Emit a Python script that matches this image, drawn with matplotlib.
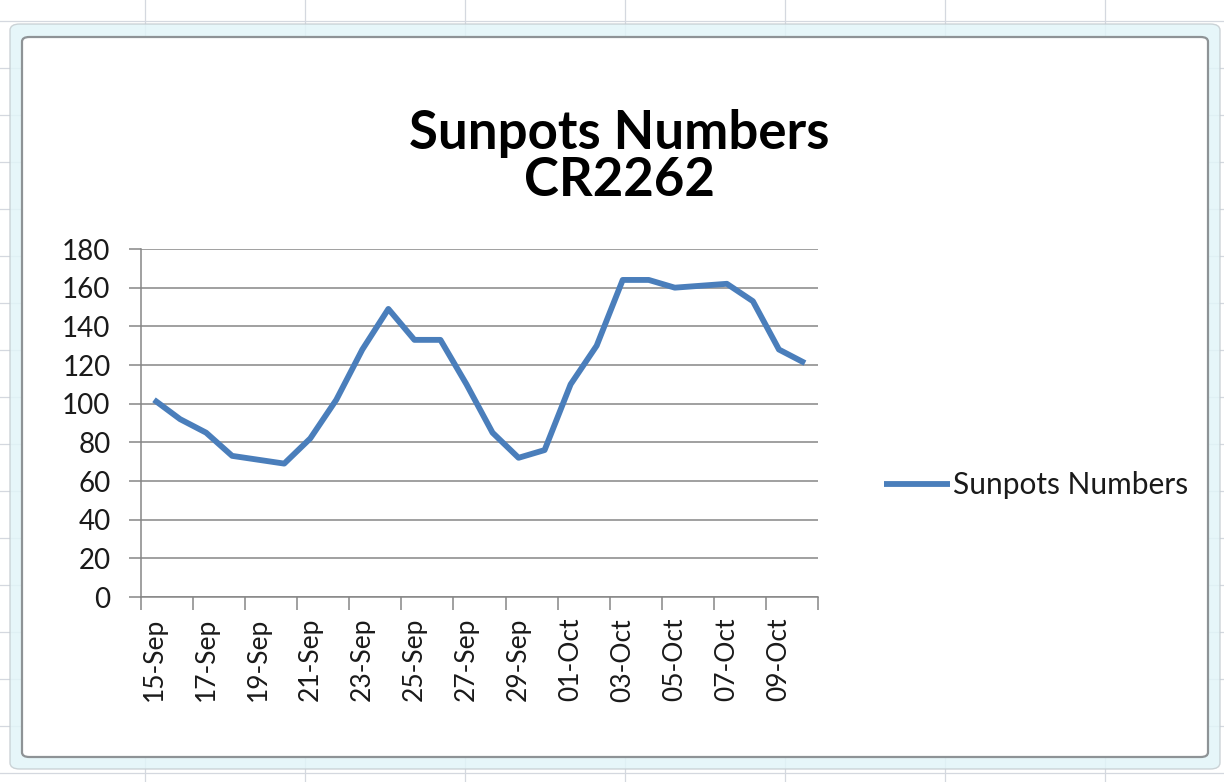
import matplotlib
matplotlib.use("Agg")
import matplotlib.pyplot as plt
from matplotlib.patches import FancyBboxPatch
from matplotlib.lines import Line2D

dates = ["15-Sep", "16-Sep", "17-Sep", "18-Sep", "19-Sep", "20-Sep", "21-Sep",
         "22-Sep", "23-Sep", "24-Sep", "25-Sep", "26-Sep", "27-Sep", "28-Sep",
         "29-Sep", "30-Sep", "01-Oct", "02-Oct", "03-Oct", "04-Oct", "05-Oct",
         "06-Oct", "07-Oct", "08-Oct", "09-Oct", "10-Oct"]
sunspots = [102, 92, 85, 73, 71, 69, 82, 102, 128, 149, 133, 133, 110, 85,
            72, 76, 110, 130, 164, 164, 160, 161, 162, 153, 128, 121]
y_ticks = [0, 20, 40, 60, 80, 100, 120, 140, 160, 180]
series_name = "Sunpots Numbers"
title_lines = ["Sunpots Numbers", "CR2262"]

W, H = 1224, 782
fig = plt.figure(figsize=(W / 100, H / 100), dpi=100)
fig.patch.set_facecolor("white")

FONT = "Lato"

def fx(px):
    return px / W

def fy(py):
    return 1 - py / H

# spreadsheet grid behind the chart
for x in [145, 305, 465, 625, 785, 945, 1105]:
    fig.add_artist(Line2D([fx(x), fx(x)], [0, 1], color="#D4D8DF", lw=0.9, zorder=0))
for y in range(21, 782, 47):
    fig.add_artist(Line2D([0, 1], [fy(y), fy(y)], color="#D4D8DF", lw=0.9, zorder=0))

# chart frame (selection band + inner border)
band = FancyBboxPatch((fx(10), fy(769)), fx(1220) - fx(10), fy(24) - fy(769),
                      boxstyle="round,pad=0,rounding_size=0.008",
                      transform=fig.transFigure, facecolor="#E2F5F8", alpha=0.85,
                      edgecolor="#C4CCD0", lw=1.0, zorder=1)
fig.add_artist(band)
inner = FancyBboxPatch((fx(22), fy(757)), fx(1208) - fx(22), fy(37) - fy(757),
                       boxstyle="round,pad=0,rounding_size=0.006",
                       transform=fig.transFigure, facecolor="white",
                       edgecolor="#8E9396", lw=1.6, zorder=2)
fig.add_artist(inner)

ax = fig.add_axes([fx(141), fy(597), fx(818) - fx(141), fy(249) - fy(597)])
ax.set_zorder(3)
ax.patch.set_alpha(0)

xs = list(range(len(dates)))
line, = ax.plot(xs, sunspots, color="#4A7EBB", lw=4.2, solid_joinstyle="round",
                solid_capstyle="butt", label=series_name, zorder=3)

ax.set_xlim(-0.5, len(dates) - 0.5)
ax.set_ylim(0, 180)
ax.set_yticks(y_ticks)
ax.set_yticklabels([str(v) for v in y_ticks], fontfamily=FONT, fontsize=20,
                   color="#1A1A1A")
ax.yaxis.grid(True, color="#868686", lw=1.1)
ax.set_axisbelow(True)

# category boundaries as major ticks, labels at every other category centre
ax.set_xticks([i - 0.5 for i in range(0, len(dates) + 1, 2)])
ax.set_xticklabels([])
ax.set_xticks(xs[::2], minor=True)
ax.set_xticklabels(dates[::2], minor=True, rotation=90, fontfamily=FONT,
                   fontsize=19, color="#1A1A1A")
ax.tick_params(axis="x", which="major", length=9, width=1.1, color="#868686",
               direction="out")
ax.tick_params(axis="x", which="minor", length=0, pad=15)
ax.tick_params(axis="y", length=9, width=1.1, color="#868686", pad=13)

for s in ["top", "right"]:
    ax.spines[s].set_visible(False)
for s in ["left", "bottom"]:
    ax.spines[s].set_color("#868686")
    ax.spines[s].set_linewidth(1.1)

fig.text(fx(619), fy(133), title_lines[0], ha="center", va="center",
         fontfamily=FONT, fontweight="bold", fontsize=38, color="black", zorder=4)
fig.text(fx(619), fy(181), title_lines[1], ha="center", va="center",
         fontfamily=FONT, fontweight="bold", fontsize=38, color="black", zorder=4)

leg = ax.legend(handles=[line], loc="center left",
                bbox_to_anchor=(fx(857), fy(485)), bbox_transform=fig.transFigure,
                frameon=False, handlelength=2.2, handletextpad=0.12,
                prop={"family": FONT, "size": 21.5})
for t in leg.get_texts():
    t.set_color("#1A1A1A")

fig.savefig("out.png", dpi=100)
